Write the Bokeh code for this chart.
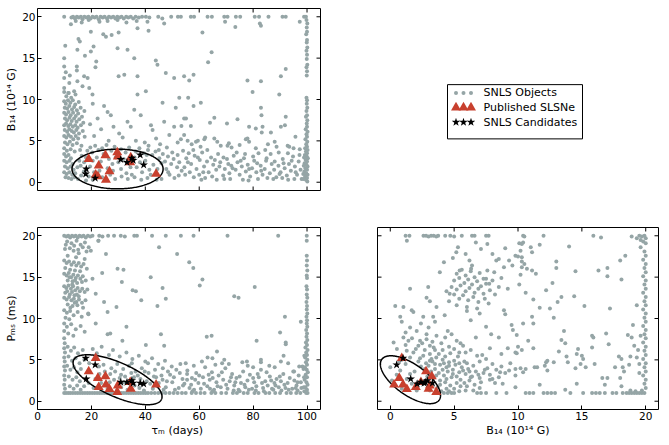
import numpy as np
from bokeh.plotting import figure
from bokeh.models import Range1d, FixedTicker
from bokeh.core.properties import value
from bokeh.layouts import column, row
from bokeh.embed import file_html
from bokeh.resources import INLINE

GRAY = "#95a5a6"
RED = "#c8402e"
FONT = "DejaVu Sans"

# ---------------- data: published SLSNe and SNLS candidates ----------------
slsn_tau = [19.0, 25.2, 29.6, 29.8, 34.6, 34.4, 22.7, 26.7, 21.6, 25.4, 44.0, 22.4]
slsn_b = [2.8, 3.25, 3.6, 3.1, 3.0, 2.4, 2.0, 1.3, 0.9, 0.3, 1.0, 0.7]
slsn_p = [3.6, 3.0, 1.1, 1.9, 1.5, 2.3, 1.7, 1.45, 5.2, 2.0, 2.0, 2.8]

cand_tau = [17.9, 21.4, 18.1, 30.9, 33.2, 35.0, 35.5, 38.1, 39.4]
cand_b = [1.0, 0.5, 1.6, 2.75, 2.4, 2.9, 2.65, 3.3, 2.1]
cand_p = [5.2, 4.4, 2.7, 2.3, 2.3, 2.5, 2.2, 2.2, 2.1]

legend_labels = ["SNLS Objects", "Published SLSNe", "SNLS Candidates"]

# ---------------- SNLS objects, top-left panel (tau_m, B14) ----------------
tl_top_row = [(9.9,20.0),(12.6,19.9),(13.2,20.0),(13.9,19.8),(14.6,20.0),(15.3,19.9),(16.1,20.0),(16.7,19.7),(17.4,20.0),(18.2,19.9),(18.9,20.0),(19.7,19.8),(20.4,20.0),(21.2,19.9),(21.9,20.0),(22.7,19.7),(23.4,20.0),(24.2,19.9),(24.9,20.0),(25.8,19.8),(26.5,20.0),(27.3,19.9),(28.1,20.0),(28.9,19.8),(29.6,20.0),(30.4,19.9),(31.2,20.0),(32.0,19.8),(32.9,20.0),(33.7,19.9),(34.6,20.0),(35.5,19.8),(36.4,20.0),(37.6,19.9),(38.8,20.0),(40.2,20.0),(41.5,19.9),(44.8,20.0),(46.3,19.8),(49.6,20.0),(52.1,20.0),(53.2,20.0),(56.9,20.0),(58.1,20.0),(63.1,20.0),(64.7,20.0),(69.3,20.0),(70.5,20.0),(73.6,20.0),(75.2,20.0),(80.6,20.0),(82.2,20.0),(85.7,20.0),(90.9,20.0),(92.1,20.0),(98.9,20.0),(99.6,20.0),
              (12.4,19.1),(14.2,19.5),(16.4,19.3),(19.0,19.6),(23.0,19.4),(26.0,19.5),(29.7,19.6),(33.0,19.3),(36.8,19.5),(40.8,19.4),(47.0,19.2),(69.6,19.4),(82.5,19.2),(73.4,18.75),(82.9,18.9),(97.3,19.4)]
tl_upper = [(15.2,17.3),(15.7,17.0),(19.8,18.2),(24.4,17.9),(25.4,17.6),(27.5,17.8),(30.1,18.1),(37.1,18.6),(41.2,18.3),(14.8,16.0),(9.9,15.0),(19.8,15.8),(20.8,16.4),(29.7,16.2),(33.4,16.0),(35.9,15.0),(43.9,14.7),(44.5,14.2),(9.9,14.0),(14.6,14.0),(14.6,13.5),(17.3,12.8),(18.6,12.6),(9.9,12.6),(11.8,12.0),(14.8,12.2),(30.1,12.8),(32.2,13.0),(37.1,12.8),(47.6,13.2),(50.7,12.6),(54.4,12.8),(9.9,11.4),(11.4,10.8),(13.6,11.0),(16.7,11.6),(19.2,11.4),(20.4,10.6),(37.1,10.6),(40.2,11.0),(52.6,10.2),(10.3,16.5),(10.5,13.3),(12.0,12.9),(17.6,15.3),(21.8,14.6),(21.5,13.9),(61.2,18.1),(64.6,15.7),(63.3,14.5),(57.9,13.0),(56.3,12.3),(77.9,12.3),(82.9,12.2),(79.8,10.9),(90.3,12.8),(92.1,13.7),(89.7,10.6),(55.9,10.2)]
tl_middle = [(24.7,9.2),(26.0,8.5),(28.2,6.7),(30.3,5.9),(33.4,7.3),(34.6,6.7),(35.9,8.75),(38.3,8.1),(42.1,6.9),(42.7,6.3),(46.4,9.6),(47.0,7.3),(48.9,5.7),(50.7,6.7),(51.3,9.0),(54.4,7.7),(54.4,5.7),(27.2,8.1),(22.3,7.7),(57.9,9.2),(60.6,9.6),(55.1,7.7),(65.6,7.8),(64.0,7.2),(82.9,9.0),(83.1,8.1),(70.3,7.1),(74.2,7.6),(92.1,7.9),(91.8,6.9),(90.3,6.7),(53.4,6.8),(56.9,6.8),(78.5,6.7),(81.0,6.5),(83.5,6.7),(83.2,6.0),(86.6,6.0),(77.9,5.3),(78.5,4.9),(77.3,5.2),(20.5,9.5),(23.6,6.4),(31.6,5.4),(36.5,5.0),(39.8,4.8),(44.0,5.3),(26.4,5.0),(21.0,5.6),(19.5,7.0),(45.5,4.6),(41.2,4.4),(52.0,4.8),(59.5,5.0),(62.2,5.4),(66.7,4.9),(71.0,4.7),(75.0,4.5),(85.5,4.6),(88.0,4.9),(93.4,4.3),(95.7,5.5),
             (53.2,5.2),(55.7,5.0),(58.8,4.9),(61.9,5.2),(65.6,5.3),(70.5,4.4),(88.7,4.3),(92.8,4.4),(97.3,4.0)]
tl_left_cluster = [(9.9,10.9),(10.7,10.4),(11.6,10.8),(12.5,10.2),(14.1,10.6),
                   (9.9,9.8),(10.5,9.5),(11.3,9.9),(12.2,9.6),(13.1,9.9),(14.0,9.4),(15.3,9.7),
                   (10.1,9.0),(11.0,8.9),(11.8,9.2),(12.8,8.8),(13.6,9.1),(14.6,8.7),(16.0,9.0),(17.4,8.6),
                   (9.9,8.4),(10.6,8.2),(11.5,8.5),(12.3,8.1),(13.2,8.4),(14.2,8.0),(15.1,8.3),(16.5,7.9),
                   (10.2,7.7),(11.0,7.5),(11.9,7.8),(12.7,7.4),(13.6,7.7),(14.5,7.3),(15.5,7.6),(17.0,7.2),
                   (9.9,6.9),(10.6,7.1),(11.4,6.8),(12.2,7.0),(13.1,6.7),(14.0,6.9),(14.9,6.6),(16.1,6.9),
                   (10.1,6.3),(11.0,6.1),(11.8,6.4),(12.7,6.2),(13.5,6.0),(14.4,6.3),(15.4,5.9),(16.8,6.2),
                   (9.9,5.6),(10.7,5.4),(11.5,5.7),(12.4,5.5),(13.3,5.2),(14.2,5.6),(15.1,5.3),(17.5,5.5),
                   (10.2,4.8),(11.1,4.6),(12.0,4.9),(13.0,4.5),(14.6,4.7),(16.3,4.4),
                   (9.9,4.1),(10.9,3.8),(12.3,4.0),(13.8,3.7),(15.8,3.9)]
tl_low_left = [(9.9,3.4),(10.6,3.1),(11.5,3.3),(12.4,2.9),(9.9,2.6),(10.8,2.4),(11.9,2.6),(13.0,2.2),(10.2,1.9),(11.2,1.7),(12.3,1.9),(13.4,1.5),(9.9,1.2),(10.8,1.0),(11.8,1.2),(12.9,0.9),(14.0,1.1),(10.4,0.6),(11.5,0.5),(12.6,0.4),(13.8,0.6),(15.0,0.4),(16.2,0.8),(14.8,1.8),(15.5,2.6),(16.4,3.2),(17.2,1.3),(18.5,3.8),(19.6,4.2),(20.3,3.6),(21.4,4.4),(22.6,3.9),(24.0,4.1),(25.6,4.5),(27.4,3.8),(28.6,4.3),(31.0,4.0),(32.7,3.6),(34.0,4.2),(36.5,3.7),(37.8,4.1),(39.5,3.5),(41.0,3.9),(42.6,3.3),(43.8,3.7),(45.2,2.9),(46.5,3.4),(47.3,2.5),(48.4,3.1),(49.6,2.2),(50.5,2.8),(51.8,1.8),(52.6,2.4),(53.5,1.4),(47.8,1.6),(49.0,0.9),(50.8,0.5),(52.4,0.8),(46.0,0.4),(44.2,0.3),(40.8,0.5),(38.5,0.3),(36.0,0.6),(33.5,0.4),(31.2,0.7),(28.8,0.4),(27.0,0.9),(24.0,0.6),(20.5,0.3),(18.0,0.2),(19.5,1.9),(23.5,2.5),(27.8,2.2),(31.0,1.6),(33.0,1.1),(36.8,1.8),(38.8,1.2),(41.5,1.5),(43.0,2.1),(40.0,2.6),(26.0,1.7),(29.0,3.0),(17.3,2.4),(21.0,1.2),
               (16.0,2.0),(18.0,3.0),(20.5,2.6),(22.0,3.0),(24.5,3.4),(26.5,2.8),(28.0,1.4),(30.0,2.4),(32.0,2.8),(34.5,1.8),(36.0,3.0),(38.0,2.4),(40.5,3.3),(42.0,0.9),(44.5,1.6),(46.0,2.3),(48.5,1.2),(50.0,3.6),(52.0,3.3),(54.5,1.8),(19.0,0.7),(23.0,1.4),(35.0,0.9),(45.0,3.9),(48.0,4.2)]
tl_low_right = [(54.0,3.8),(55.2,2.9),(56.1,3.5),(57.0,2.2),(58.3,3.2),(59.0,1.6),(60.2,2.7),(61.1,3.6),(61.8,1.9),(62.9,2.5),(63.5,1.2),(64.4,3.0),(65.2,2.1),(66.3,1.5),(67.0,3.4),(67.8,2.4),(68.9,0.8),(54.8,0.9),(56.5,1.2),(58.0,0.6),(60.0,0.9),(62.2,0.5),(64.8,0.7),(66.5,0.3),(69.5,1.6),(70.3,2.8),(71.2,1.1),(71.9,2.0),(72.8,3.2),(73.5,1.5),(74.2,2.4),(75.0,0.9),(75.8,1.9),(76.6,2.9),(77.3,1.3),(78.0,2.1),(78.9,0.7),(79.6,1.7),(80.4,2.6),(81.2,1.2),(82.0,3.5),(82.8,2.0),(83.5,0.9),(84.3,1.6),(85.0,2.9),(86.2,1.1),(86.9,2.2),(87.8,1.5),(88.6,0.6),(89.4,2.0),(90.2,1.2),(91.0,2.8),(91.7,1.7),(92.5,0.8),(93.3,2.2),(94.0,1.4),(94.8,3.1),(95.5,1.9),(96.3,0.9),(96.9,2.5),(97.6,1.5),(98.0,0.4),(93.0,0.3),(87.5,0.4),(81.8,0.4),(76.2,0.3),(71.5,0.4),(68.0,4.4),(72.0,4.2),(81.0,4.1),(84.5,3.9),(89.5,3.6),(95.0,4.1),(60.5,4.3),(57.2,4.6),
                (55.8,2.4),(57.8,3.9),(59.5,3.0),(61.5,1.2),(63.0,3.9),(65.8,2.7),(67.5,1.9),(69.0,3.0),(70.8,2.2),(72.4,1.7),(73.9,3.6),(75.4,2.6),(77.0,3.4),(78.5,1.6),(80.0,3.1),(81.5,2.3),(83.0,1.4),(84.8,2.6),(86.5,3.4),(88.0,2.5),(89.8,1.0),(91.3,2.3),(92.9,3.5),(94.3,2.6),(95.8,1.2),(97.2,3.3),(60.8,0.3),(69.3,0.4),(78.3,0.2),(85.3,0.5),(90.8,0.5),(95.3,0.4)]
tl_right_col = [(99.8,19.6),(100.1,19.2),(99.9,18.7),(100.0,18.2),(99.7,17.9),(100.0,17.2),(99.9,16.9),(100.1,16.3),(99.8,15.9),(100.0,15.4),(99.9,14.9),(100.1,14.2),(99.8,13.9),(100.0,13.4),(99.9,12.9),(99.8,10.2),(100.0,9.9),(99.9,9.5),(100.1,9.0),(99.8,8.6),(100.0,8.1),(99.6,7.9),(100.1,7.5),(99.9,7.1),
                (100.0,6.7),(99.5,6.4),(100.2,6.1),(99.8,5.8),(100.0,5.5),(99.4,5.2),(100.1,4.9),(99.7,4.6),(100.0,4.3),(99.3,4.1),(100.2,3.9),(99.6,3.7),(100.0,3.5),(99.2,3.3),(99.9,3.1),(100.3,2.9),(99.5,2.7),(100.0,2.5),(99.1,2.3),(99.8,2.1),(100.2,1.9),(99.4,1.7),(100.0,1.5),(99.0,1.3),(99.7,1.1),(100.2,0.9),(99.3,0.7),(100.0,0.5),(99.6,0.3),(100.1,0.1),(98.8,2.0),(98.6,1.0),(98.9,3.0),(98.7,0.4)]

# ---------------- SNLS objects, bottom-left panel (tau_m, P_ms) ----------------
bl_top_row = [(9.9,20.0),(10.7,19.9),(11.4,20.0),(12.1,19.8),(12.8,20.0),(13.5,19.9),(14.2,20.0),(14.9,19.8),(15.6,20.0),(16.4,19.9),(17.1,20.0),(17.9,19.8),(18.7,20.0),(19.6,19.9),(20.4,20.0),(22.9,20.0),(24.1,19.9),(26.2,20.0),(28.4,20.0),(30.9,20.0),(32.4,19.9),(35.9,20.0),(36.9,20.0),(42.5,20.0),(47.6,20.0),(53.2,20.0),(57.9,20.0),(70.5,20.0),(89.3,20.0),(99.9,20.0),(99.9,19.4),
              (11.0,19.3),(12.6,19.1),(14.5,19.4),(16.0,18.9),(17.6,19.2),(19.0,18.6),(10.2,18.4),(13.4,18.2),(22.6,19.4),(45.1,18.6),(51.8,17.8),(15.3,17.9)]
bl_left_cluster = [(10.5,18.9),(12.0,18.5),(13.6,18.8),(15.1,18.3),(16.8,18.6),(18.2,18.1),(11.2,17.6),(14.3,17.4),(17.5,17.2),
                   (9.9,17.0),(10.8,16.7),(11.7,16.9),(12.6,16.5),(13.5,16.8),(14.4,16.4),(15.3,16.7),(16.2,16.3),(17.1,16.6),(18.3,16.0),(10.3,16.1),(12.1,15.9),(13.9,15.8),(15.8,15.7),
                   (9.9,15.4),(10.8,15.2),(11.6,15.5),(12.5,15.0),(13.3,15.3),(14.2,14.9),(15.0,15.2),(15.9,14.8),(16.8,15.1),(17.9,14.6),(11.2,14.6),(13.0,14.5),(14.7,14.3),(16.5,14.4),
                   (9.9,13.9),(10.7,13.7),(11.5,14.0),(12.4,13.6),(13.2,13.9),(14.0,13.4),(14.9,13.7),(15.7,13.3),(16.6,13.6),(17.5,13.2),(18.5,13.5),(10.3,13.1),(12.0,12.9),(13.7,12.8),(15.3,12.7),
                   (9.9,12.5),(10.8,12.3),(11.7,12.6),(12.6,12.2),(13.5,12.4),(14.4,12.0),(15.4,12.3),(16.5,11.9),(17.8,12.2),(11.2,11.7),(13.0,11.5),(14.8,11.6),(16.9,11.3),
                   (9.9,11.0),(10.9,10.7),(12.1,10.9),(13.4,10.4),(14.9,10.8),(16.4,10.2),(18.9,10.5),(10.4,10.1),(11.8,9.9),
                   (9.9,9.4),(10.9,9.0),(12.5,9.3),(14.2,8.7),(16.0,9.1),(9.9,8.5),(11.4,8.2),(13.3,7.9),(17.5,8.4),
                   (11.9,15.0),(12.9,14.1),(13.9,14.6),(11.0,13.3),(12.8,13.2),(14.6,12.9),(12.2,11.3),(13.8,11.9)]
bl_upper = [(19.8,18.2),(22.6,19.4),(25.4,17.8),(20.4,14.8),(21.6,13.0),(24.7,12.0),(26.0,10.8),(29.3,11.4),(29.7,16.0),(31.9,15.9),(31.3,14.4),(35.3,13.4),(36.5,13.3),(46.4,13.7),(47.6,12.4),(44.5,11.5),(26.0,8.1),(27.0,8.2),(18.8,10.6),(21.6,9.4),(31.5,7.3),(45.8,8.1),(40.2,6.8),(47.0,6.7),(33.0,9.0),(38.5,12.2),(42.0,15.0),(24.0,15.5),
            (56.3,16.8),(57.8,16.1),(61.2,14.7),(60.2,14.0),(73.0,12.7),(74.6,12.5),(80.6,13.8),(91.8,10.2),(90.0,8.3),(92.1,7.1),(92.1,6.9),(97.7,9.6),(62.8,7.8),(64.6,7.9),(81.3,7.3),(66.6,6.0),(63.1,5.3),(64.9,5.2),(69.3,5.0),(77.7,4.8),(82.9,5.0),(82.9,4.7),(90.3,4.8),(91.3,5.5),(97.1,4.2),(95.2,3.6)]
bl_left_low = [(9.9,7.6),(10.1,7.0),(9.9,6.4),(10.2,5.9),(9.9,5.3),(10.1,4.8),(9.9,4.2),(10.2,3.7),(9.9,3.1),(10.1,2.6),(9.9,2.0),(10.2,1.5),(9.9,1.0),(10.6,1.0),(11.4,1.0),
               (11.2,6.6),(12.4,6.1),(13.6,6.5),(15.0,5.8),(16.8,6.2),(11.5,5.4),(12.8,4.9),(14.1,5.2),(15.6,4.6),(17.4,5.0),(11.0,4.3),(12.2,3.8),(13.5,4.1),(14.8,3.5),(16.1,3.9),(11.6,3.0),(13.0,2.6),(14.4,2.9),(15.7,2.4),(12.0,1.8),(13.4,1.5),(14.7,1.9),(16.0,1.4),(17.3,1.8),
               (12.2,1.0),(13.1,1.0),(14.0,1.0),(14.9,1.0),(15.8,1.0),(16.7,1.0),(17.6,1.0),(18.5,1.0),(19.4,1.0)]
bl_floor = [(20.3,1.0),(21.2,1.0),(22.1,1.0),(23.0,1.0),(23.9,1.0),(24.8,1.0),(25.7,1.0),(26.6,1.0),(27.5,1.0),(28.4,1.0),(29.3,1.0),(30.2,1.0),(31.1,1.0),(32.0,1.0),(32.9,1.0),(33.8,1.0),(34.7,1.0),(35.6,1.0),(36.5,1.0),(37.4,1.0),(38.3,1.0),(39.2,1.0),(40.1,1.0),(41.0,1.0),(42.2,1.0),(43.5,1.0),(44.8,1.0),(46.2,1.0),(47.5,1.0),(49.0,1.0),(50.5,1.0),(52.0,1.0),(53.6,1.0),(55.0,1.0),(57.2,1.0),(58.8,1.0),(60.5,1.0),(62.0,1.0),(64.5,1.0),(66.0,1.0),(68.2,1.0),(70.0,1.0),(72.5,1.0),(74.0,1.0),(76.5,1.0),(78.0,1.0),(80.5,1.0),(82.0,1.0),(84.6,1.0),(86.0,1.0),(88.2,1.0),(90.0,1.0),(92.4,1.0),(94.0,1.0),(96.0,1.0),(97.5,1.0)]
bl_mid_band = [(20.5,6.3),(22.0,5.8),(23.8,6.6),(26.5,5.6),(28.0,6.2),(30.5,5.4),(33.0,5.9),(35.2,5.1),(37.6,5.5),(40.0,4.8),(42.5,5.2),(44.8,4.5),(47.3,4.9),(49.8,4.2),(19.2,4.6),(24.5,4.4),(27.4,4.0),(29.6,4.5),(31.8,3.9),(34.0,4.3),(36.4,3.6),(38.7,4.0),(41.2,3.4),(43.6,3.8),(46.0,3.1),(48.4,3.6),(50.6,2.9),(19.0,2.2),(20.8,1.6),(23.6,2.2),(26.0,1.5),(28.4,2.6),(31.0,1.7),(33.4,1.4),(35.8,2.9),(37.8,1.6),(40.5,2.4),(42.8,1.5),(45.0,2.2),(47.6,1.7),(50.0,2.3),(52.4,1.6),(53.8,2.7),(27.0,3.3),(32.5,3.0),(37.2,3.1),(44.0,2.9),(51.5,3.8),(39.5,1.3),(29.5,1.3),(23.0,3.3),(46.8,1.4),(53.0,4.5),(55.5,3.3),
               (21.5,2.7),(22.8,4.2),(25.0,3.6),(26.8,2.3),(28.8,3.6),(30.5,2.8),(32.0,2.3),(34.8,3.4),(36.0,1.9),(38.2,2.7),(39.8,3.6),(41.8,2.1),(43.2,3.0),(44.5,1.8),(46.4,2.6),(48.0,2.4),(49.2,3.2),(51.0,1.4),(52.8,3.4),(54.0,1.9),(35.0,4.6),(41.0,4.6),(46.5,4.0),(31.0,3.2)]
bl_right_band = [(54.5,2.1),(55.6,3.7),(56.4,1.6),(57.3,2.8),(58.1,1.4),(58.9,3.4),(59.7,2.2),(60.6,1.5),(61.4,2.9),(62.2,4.1),(63.0,1.8),(63.9,2.6),(64.7,3.5),(65.5,1.4),(66.4,2.3),(67.2,3.1),(68.0,1.7),(68.9,2.6),(69.7,4.0),(70.5,1.5),(71.3,2.4),(72.2,3.3),(73.0,1.9),(73.8,2.8),(74.6,1.4),(75.5,2.2),(76.3,3.6),(77.1,1.7),(77.9,2.5),(78.8,3.2),(79.6,1.5),(80.4,2.3),(81.2,1.8),(82.1,2.9),(82.9,3.8),(83.7,1.6),(84.5,2.4),(85.4,1.9),(86.2,3.0),(87.0,1.5),(87.9,2.2),(88.7,2.7),(89.5,1.7),(90.3,2.4),(91.2,3.3),(92.0,1.6),(92.8,2.2),(93.6,2.8),(94.5,1.5),(95.3,2.5),(96.1,1.9),(96.9,3.1),(97.7,2.3),(98.3,4.2),(55.0,4.6),(61.0,4.8),(66.0,4.4),(71.0,4.5),(76.0,4.7),(86.0,4.3),(93.0,4.6),(80.0,4.1),(57.5,1.2),(65.0,1.2),(75.0,1.2),(84.0,1.2),(90.5,1.3),(96.5,1.3),
                 (55.5,2.6),(57.0,2.0),(58.5,2.6),(60.0,3.1),(61.8,2.1),(63.5,3.2),(65.0,2.8),(66.8,1.8),(68.4,3.5),(70.0,2.0),(71.8,2.9),(73.4,2.3),(75.0,3.0),(76.8,2.0),(78.4,1.4),(80.0,2.8),(81.7,3.3),(83.3,2.2),(85.0,3.5),(86.7,2.5),(88.3,1.9),(89.9,3.0),(91.6,2.0),(93.2,1.4),(94.9,3.6),(96.5,2.3),(97.9,1.6),(58.0,4.3),(68.5,4.6),(78.0,4.3),(88.0,4.1),(64.0,1.5),(72.8,1.3),(81.0,1.3),(87.5,1.4),(95.8,1.6)]
bl_right_col = [(99.9,17.6),(100.0,17.0),(99.9,16.4),(100.1,15.8),(99.9,15.2),(100.0,14.9),(99.8,13.9),(100.0,13.5),(99.9,12.9),(100.1,12.5),(99.8,12.0),(100.0,11.5),(99.9,11.1),(100.1,10.6),(99.8,10.2),(100.0,9.8),(99.9,9.4),(100.1,9.0),(99.7,8.6),(100.0,8.2),(99.8,7.8),(100.1,7.4),(99.6,7.1),(100.0,6.8),(99.4,6.5),(100.2,6.2),(99.7,5.9),(100.0,5.6),(99.3,5.3),(100.1,5.0),(99.6,4.7),(100.0,4.4),(99.2,4.1),(99.9,3.8),(100.3,3.5),(99.5,3.2),(100.0,2.9),(99.1,2.6),(99.8,2.3),(100.2,2.0),(99.4,1.7),(100.0,1.4),(99.0,1.2),(99.7,1.0),(100.2,1.0),(98.8,1.7),(98.9,2.9),(98.7,3.9),(99.0,5.5)]

# ---------------- SNLS objects, bottom-right panel (B14, P_ms) ----------------
br_top_row = [(1.2,20.0),(1.5,20.0),(1.3,19.4),(2.6,20.0),(2.8,20.0),(3.0,19.9),(3.2,20.0),(3.4,20.0),(3.6,19.9),(3.75,20.0),(4.3,20.0),(4.7,20.0),(5.0,19.9),(5.6,20.0),(6.4,20.0),(6.6,20.0),(7.5,20.0),(7.7,20.0),(10.4,20.0),(12.0,20.0),(15.9,20.0),(16.5,19.8),(18.9,19.9),(19.3,19.7),(19.5,20.0),(19.6,19.5),(19.7,19.9),(19.8,19.3),(19.9,20.0),(20.0,19.7),(20.0,19.1),(19.6,18.6)]
br_upper_left = [(1.03,11.4),(0.39,11.5),(1.55,13.6),(1.68,11.0),(1.81,10.8),(0.78,10.2),(0.9,9.6),(2.58,10.2),(2.84,12.5),(2.97,13.8),(3.1,12.1),(3.36,10.2),(3.5,9.6),(3.62,11.4),(3.62,7.9),(4.26,10.4),(4.5,8.5),(2.07,8.5),(1.55,8.9),(2.33,7.3),(3.88,15.6),(4.65,13.0),(0.26,7.1),(0.52,6.3),(1.03,7.7),(1.42,7.3),(1.29,6.1),(1.81,5.9),(2.2,6.7),(2.84,8.1),(2.84,7.5),(3.1,6.7),(0.9,5.0),(1.55,5.3),(2.33,5.2),(2.58,5.5),(3.1,5.7),(3.23,5.1),(0.0,4.1),(0.13,2.5),(0.39,1.9),(1.55,3.3),
                 (0.78,3.7),(1.29,2.7),(1.68,2.1),(2.07,1.3),(2.58,2.1),(3.1,1.3),(0.9,1.5),(0.5,3.2),(1.9,3.6),(2.4,4.2)]
br_diag = [(5.17,18.0),(5.3,18.6),(5.9,17.8),(6.2,17.0),(6.7,19.2),(7.1,18.4),(7.6,19.0),(8.0,17.8),(8.3,17.0),(8.5,17.2),(8.9,16.2),(9.3,17.0),(9.56,16.4),(9.8,17.6),(10.2,18.2),(10.3,19.0),(10.5,16.6),(7.5,14.8),(7.75,14.2),(8.14,15.6),(5.43,15.8),(6.33,16.0),(4.2,16.8),(9.0,18.5),(8.7,14.9),(9.2,13.6),(4.9,17.3)]
br_cluster = [(5.2,15.4),(5.6,15.9),(5.9,15.2),(6.3,15.7),(6.6,15.0),(7.0,15.5),(7.3,14.8),(5.0,14.6),(5.4,14.9),(5.8,14.3),(6.1,14.7),(6.4,14.1),(6.8,14.5),(7.1,13.9),(7.5,14.2),(4.8,13.8),(5.2,13.5),(5.5,14.0),(5.9,13.3),(6.2,13.7),(6.6,13.1),(6.9,13.6),(7.3,13.0),(7.8,13.4),(5.0,12.9),(5.4,12.4),(5.7,12.8),(6.1,12.2),(6.5,12.6),(6.9,12.0),(7.4,12.4),(4.6,12.1),(5.2,11.6),(6.0,11.4),(6.8,11.2),(7.7,11.8),(8.2,12.9),(8.5,13.8),(4.4,13.3),(6.4,16.4),(7.6,15.8),(8.0,14.6)]
br_right_scatter = [(10.5,19.9),(10.1,19.1),(10.4,19.2),(11.0,18.6),(11.1,18.0),(11.7,18.9),(10.0,17.5),(10.3,17.4),(10.3,16.9),(10.3,16.2),(10.7,16.0),(11.1,15.8),(11.4,15.4),(10.2,15.3),(14.0,18.7),(13.0,16.9),(13.0,16.1),(14.5,15.7),(16.3,15.8),(17.0,16.1),(17.0,15.1),(18.0,17.0),(18.4,17.6),(18.1,14.7),(10.1,14.1),(10.6,13.1),(12.2,13.4),(12.7,14.3),(11.2,12.3),(11.7,11.3),(12.5,11.2),(13.1,12.0),(13.4,12.6),(14.4,12.7),(15.2,11.5),(17.2,11.2),(19.3,11.6),(11.1,10.2),(11.2,9.4),(12.8,10.1),(13.6,8.5),(13.4,7.4),(13.7,7.0),(13.2,6.0),(15.8,7.9),(15.9,7.7),(16.9,8.2),(17.1,6.9),(18.6,8.0),(19.0,9.2),(18.9,7.7),(19.1,6.7),(15.8,6.5),(14.7,6.3),(14.6,5.7),(15.0,5.5),(15.1,5.1),(14.9,4.5),(15.3,4.1),(16.0,4.5),(13.8,5.4),(13.9,4.7),(14.5,4.0),(10.0,6.6),(9.9,5.8),(10.3,6.2),(11.2,6.4),(10.6,3.9),(10.2,4.0),(10.4,3.5),(11.3,4.1),(11.5,4.1),(12.1,4.3),(12.2,4.7),(12.3,4.9),(12.3,3.7),(12.8,4.7),(17.9,5.4),(18.1,5.1),(18.2,4.1),(18.3,3.6),(18.8,5.4),(18.7,4.4),(17.6,4.1),(16.6,2.8),(17.0,2.8),(16.8,2.0),(18.0,2.8),(18.1,1.8),(14.6,2.1),(13.7,1.4),(11.7,2.0),(9.8,1.7),
                    (5.7,6.7),(6.7,7.7),(5.4,5.9),(4.8,8.1),(7.5,9.0),(7.9,8.1),(8.5,7.7),(8.7,5.7),(9.8,5.9),(9.3,3.7),(9.8,3.1),(8.0,2.7),(8.8,2.1),(5.9,1.3),(6.3,9.8),(7.0,10.6),(8.9,11.0),(9.5,9.2),(9.9,8.0),(6.0,10.9),(9.0,10.5),(9.6,8.6),(10.4,9.4),(10.8,7.3),(9.2,6.4)]
br_right_col = [(19.9,18.1),(20.0,17.6),(19.8,17.1),(20.0,16.6),(19.9,16.1),(20.0,15.6),(19.8,15.1),(20.0,14.6),(19.9,14.1),(20.0,13.6),(19.8,13.1),(20.0,12.6),(19.9,12.1),(20.0,11.6),(19.8,11.1),(20.0,10.6),(19.9,10.1),(20.0,9.6),(19.8,9.1),(20.0,8.6),(19.9,8.1),(20.0,7.6),(19.8,7.1),(20.0,6.6),(19.9,6.1),(20.0,5.6),(19.8,5.1),(20.0,4.6),(19.9,4.1),(20.0,3.6),(19.8,3.1),(20.0,2.6),(19.9,2.1),(20.0,1.6),(19.7,1.3),(19.5,4.5),(19.4,6.2),(19.6,7.9),(19.3,5.3),(19.5,3.4)]
br_floor = [(4.2,1.0),(4.5,1.0),(4.8,1.0),(5.0,1.0),(6.8,1.0),(7.1,1.0),(7.5,1.0),(8.3,1.0),(9.1,1.0),(10.6,1.0),(10.9,1.0),(11.2,1.0),(12.0,1.0),(12.3,1.0),(12.6,1.0),(12.9,1.0),(14.1,1.0),(15.1,1.0),(15.8,1.0),(16.1,1.0),(16.4,1.0),(16.8,1.0),(17.4,1.0),(17.7,1.0),(18.2,1.0),(18.5,1.0),(18.7,1.0),(18.9,1.0),(19.1,1.0),(19.3,1.0),(19.5,1.0),(19.7,1.0),(19.9,1.0),(18.8,1.3),(19.2,1.2)]
br_low_band = [(3.3,4.8),(3.6,5.3),(3.9,4.4),(4.1,5.0),(4.4,4.1),(4.6,4.7),(4.9,3.8),(5.1,4.4),(5.4,3.5),(5.6,4.1),(5.9,3.3),(6.1,3.9),(6.4,3.0),(6.7,3.6),(7.0,2.8),(7.3,3.4),(7.6,4.0),(3.5,3.9),(3.8,3.4),(4.2,3.1),(4.5,3.6),(4.8,2.9),(5.2,3.0),(5.5,2.6),(5.8,2.2),(6.2,2.5),(6.6,2.0),(7.1,2.3),(3.4,2.8),(3.9,2.5),(4.3,2.3),(4.7,1.9),(5.0,1.5),(5.5,1.8),(3.2,3.6),(4.0,1.2),(4.4,1.5),(3.7,1.7),(6.0,4.6),(6.5,4.3),(7.0,4.8),(7.5,5.1),(8.0,4.5),(8.3,3.8),(8.7,4.2),(9.0,3.4),(9.4,4.6),(8.5,2.9),(7.8,2.6),(9.8,3.9),(5.3,5.4),(4.7,5.8),(4.1,6.2),(5.9,5.9),(6.8,5.5),(3.4,6.5),(3.0,4.3),(2.9,3.0),
               (1.2,6.8),(1.7,7.6),(2.0,6.3),(2.5,7.0),(2.7,6.2),(3.3,7.2),(3.5,6.2),(3.8,5.7),(4.0,7.0),(4.3,5.4),(4.6,6.6),(5.0,6.3),(5.2,7.3),(3.5,4.5),(3.1,4.9),(2.8,4.6),(2.7,3.9),(2.2,4.8),(1.2,4.5),(0.7,4.8),(4.2,4.6),(4.6,4.3),(5.0,4.9),(5.4,4.6),(5.8,4.8),(6.2,3.6),(6.9,3.2),(7.4,3.8),(6.3,2.9),(5.7,3.7),(4.9,3.3),(4.4,2.7),(4.1,3.8),(3.6,3.1),(3.9,2.0),(5.2,2.2),(6.0,1.8),(7.0,1.6),(7.8,3.2),(8.2,2.2),(5.4,1.2),(6.5,1.3),(4.6,1.2),(8.6,3.5),(7.2,5.6),(7.8,6.4),(6.3,6.2),(5.5,7.0),(4.3,7.7),(3.0,8.9),(2.4,9.4),(1.2,8.3)]

# ---------------- ellipse annotations (centre, semi-axis vectors) ----------------
ell_tl = dict(cx=29.7, cy=1.6, ax=16.9, ay=0.0, bx=0.0, by=2.4)
ell_bl = dict(cx=29.7, cy=2.6, ax=16.3, ay=-2.37, bx=-2.56, by=-1.87)
ell_br = dict(cx=1.58, cy=2.6, ax=2.25, ay=-2.45, bx=-0.694, by=-1.54)

# ---------------- sizes ----------------
DOT, TRI, STAR = 4.0, 10, 9
TICK_LEN = 4


def unpack(*groups):
    xs, ys = [], []
    for g in groups:
        for x, y in g:
            xs.append(x)
            ys.append(y)
    return xs, ys


def ellipse_pts(e):
    t = np.linspace(0, 2 * np.pi, 240)
    return (e["cx"] + np.cos(t) * e["ax"] + np.sin(t) * e["bx"],
            e["cy"] + np.cos(t) * e["ay"] + np.sin(t) * e["by"])


def style_axis(ax, ticks):
    ax.ticker = FixedTicker(ticks=ticks)
    ax.axis_line_color = None
    ax.major_tick_in = TICK_LEN
    ax.major_tick_out = 0
    ax.major_tick_line_color = "black"
    ax.minor_tick_line_color = None
    ax.major_label_text_font = FONT
    ax.major_label_text_color = "black"
    ax.major_label_text_font_size = "10.5px"
    ax.major_label_standoff = 2
    ax.axis_label_text_font = FONT
    ax.axis_label_text_font_size = "11px"
    ax.axis_label_text_font_style = "normal"
    ax.axis_label_text_color = "black"
    ax.axis_label_standoff = 1


def inner_ticks(p, sides, xticks, yticks, xr, yr, fw, fh):
    dx = (xr[1] - xr[0]) / fw * TICK_LEN
    dy = (yr[1] - yr[0]) / fh * TICK_LEN
    tx = np.array(xticks, float)
    ty = np.array(yticks, float)
    for s in sides:
        if s == "above":
            x0, x1, y0 = tx, tx, np.full_like(tx, yr[1]); y1 = y0 - dy
        elif s == "below":
            x0, x1, y0 = tx, tx, np.full_like(tx, yr[0]); y1 = y0 + dy
        elif s == "right":
            y0, y1, x0 = ty, ty, np.full_like(ty, xr[1]); x1 = x0 - dx
        else:
            y0, y1, x0 = ty, ty, np.full_like(ty, xr[0]); x1 = x0 + dx
        p.segment(x0, y0, x1, y1, line_color="black", line_width=1)


def make_panel(width, height, xr, yr, xticks, yticks, borders, show_x, show_y, xlabel=None, ylabel=None):
    p = figure(width=width, height=height, x_range=Range1d(*xr), y_range=Range1d(*yr),
               toolbar_location=None, output_backend="svg",
               min_border_left=borders[0], min_border_right=borders[1],
               min_border_top=borders[2], min_border_bottom=borders[3])
    p.xgrid.grid_line_color = None
    p.ygrid.grid_line_color = None
    p.outline_line_color = "black"
    p.outline_line_width = 1
    p.background_fill_color = "white"
    p.border_fill_color = "white"
    style_axis(p.xaxis[0], xticks)
    style_axis(p.yaxis[0], yticks)
    if xlabel:
        p.xaxis[0].axis_label = xlabel
    if ylabel:
        p.yaxis[0].axis_label = ylabel
    p.xaxis.visible = show_x
    p.yaxis.visible = show_y
    fw = width - borders[0] - borders[1]
    fh = height - borders[2] - borders[3]
    sides = ["above", "right"]
    if not show_x:
        sides.append("below")
    if not show_y:
        sides.append("left")
    inner_ticks(p, sides, xticks, yticks, xr, yr, fw, fh)
    return p


def draw(p, gx, gy, sx, sy, cx, cy, ell):
    p.scatter(gx, gy, size=DOT, color=GRAY, line_color=None)
    ex, ey = ellipse_pts(ell)
    p.line(ex, ey, line_color="black", line_width=1.5)
    p.scatter(sx, sy, marker="triangle", size=TRI, color=RED, line_color=None)
    p.scatter(cx, cy, marker="star", size=STAR, color="black", line_color=None)


tau_ticks = [0, 20, 40, 60, 80, 100]
val_ticks = [0, 5, 10, 15, 20]
B_LABEL = "B\u2081\u2084 (10\u00b9\u2074 G)"

# top-left
a = make_panel(330, 208, (0, 105), (-1, 21), tau_ticks, val_ticks, (37, 10, 8, 18), False, True, ylabel=B_LABEL)
gx, gy = unpack(tl_top_row, tl_upper, tl_middle, tl_left_cluster, tl_low_left, tl_low_right, tl_right_col)
draw(a, gx, gy, slsn_tau, slsn_b, cand_tau, cand_b, ell_tl)

# bottom-left
b = make_panel(330, 236, (0, 105), (-1, 21), tau_ticks, val_ticks, (37, 10, 19, 35), True, True,
               xlabel="\u03c4\u2098  (days)", ylabel="P\u2098\u209b (ms)")
gx, gy = unpack(bl_top_row, bl_left_cluster, bl_upper, bl_left_low, bl_floor, bl_mid_band, bl_right_band, bl_right_col)
draw(b, gx, gy, slsn_tau, slsn_p, cand_tau, cand_p, ell_bl)

# bottom-right
c = make_panel(338, 236, (-1, 21), (-1, 21), val_ticks, val_ticks, (47, 10, 19, 35), True, False, xlabel=B_LABEL)
gx, gy = unpack(br_top_row, br_upper_left, br_diag, br_cluster, br_right_scatter, br_right_col, br_floor, br_low_band)
draw(c, gx, gy, slsn_b, slsn_p, cand_b, cand_p, ell_br)

# legend panel (pixel-like coordinates, box anchored at LEG_X/LEG_Y)
DW, DH = 338, 208
d = figure(width=DW, height=DH, x_range=Range1d(0, DW), y_range=Range1d(0, DH),
           toolbar_location=None, output_backend="svg", min_border=0,
           x_axis_location=None, y_axis_location=None)
d.xgrid.grid_line_color = None
d.ygrid.grid_line_color = None
d.outline_line_color = None
LEG_X, LEG_Y, LEG_W, LEG_H = 117, 59, 135, 62
ROW_TOP, ROW_GAP = 9.5, 16.7
MARK_OFF = np.array([8.5, 16.0, 23.5])
d.quad(left=LEG_X, right=LEG_X + LEG_W, bottom=LEG_Y, top=LEG_Y + LEG_H,
       fill_color="white", line_color="black", line_width=1)
row_y = [LEG_Y + LEG_H - ROW_TOP - i * ROW_GAP for i in range(3)]
mk_x = LEG_X + MARK_OFF
d.scatter(mk_x, [row_y[0]] * 3, size=DOT, color=GRAY, line_color=None)
d.scatter(mk_x, [row_y[1]] * 3, marker="triangle", size=TRI, color=RED, line_color=None)
d.scatter(mk_x, [row_y[2]] * 3, marker="star", size=STAR, color="black", line_color=None)
d.text(x=[LEG_X + 36] * 3, y=row_y, text=legend_labels, text_font=value(FONT),
       text_font_size="11px", text_baseline="middle", text_align="left", text_color="black")

layout = column(row(a, d), row(b, c))
open("out.html", "w").write(file_html(layout, INLINE))
